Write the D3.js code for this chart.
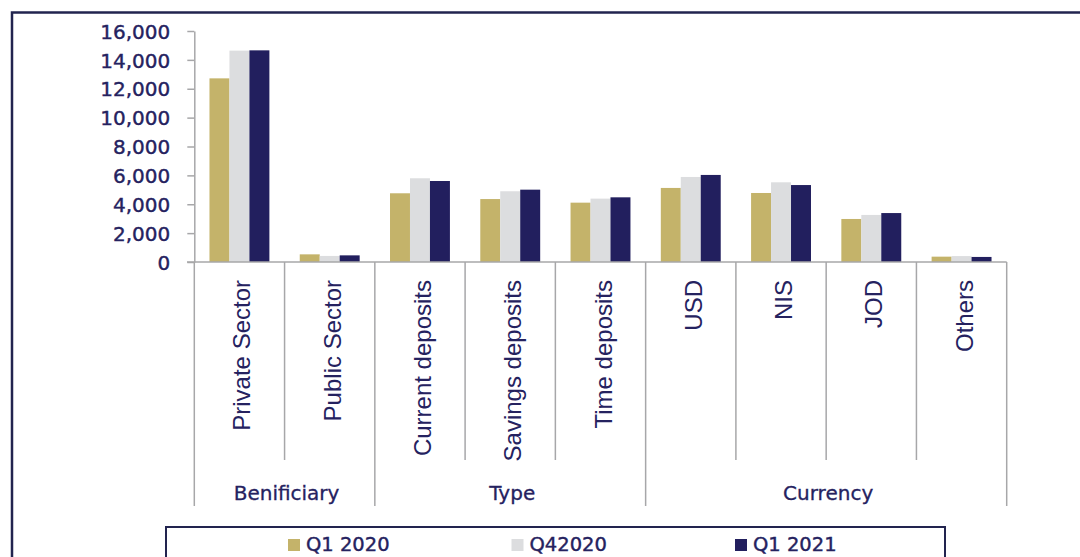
<!DOCTYPE html>
<html>
<head>
<meta charset="utf-8">
<script src="https://cdn.jsdelivr.net/npm/d3@7"></script>
<style>
  html, body { margin: 0; padding: 0; background: #fff; overflow: hidden; }
  svg { display: block; }
</style>
</head>
<body>
<div id="chart"></div>
<script>
// Data
const categories = ["Private Sector", "Public Sector", "Current deposits", "Savings deposits",
  "Time deposits", "USD", "NIS", "JOD", "Others"];
const categoryGroups = ["Benificiary", "Benificiary", "Type", "Type", "Type",
  "Currency", "Currency", "Currency", "Currency"];
const seriesNames = ["Q1 2020", "Q42020", "Q1 2021"];
const q1_2020 = [12720, 530, 4760, 4360, 4110, 5130, 4780, 2980, 370];
const q4_2020 = [14640, 420, 5800, 4900, 4390, 5890, 5520, 3260, 410];
const q1_2021 = [14660, 460, 5610, 5010, 4480, 6030, 5330, 3390, 350];
const yTicks = [0, 2000, 4000, 6000, 8000, 10000, 12000, 14000, 16000];

const seriesValues = [q1_2020, q4_2020, q1_2021];
const colors = ["#C4B36A", "#DCDDDF", "#221F5E"];
const textColor = "#25225f";
const lineColor = "#a7a7a9";

const width = 1080, height = 557;
const svg = d3.select("#chart").append("svg").attr("width", width).attr("height", height);

// outer frame (runs off the right and bottom of the picture)
svg.append("rect")
  .attr("x", 12).attr("y", 12.5).attr("width", 1200).attr("height", 700)
  .attr("fill", "none").attr("stroke", "#22244f").attr("stroke-width", 2.5);

const x = d3.scaleBand().domain(categories).range([194.3, 1006.7]).paddingInner(0).paddingOuter(0);
const xs = d3.scaleBand().domain(seriesNames).range([0, x.bandwidth()]).paddingInner(0).paddingOuter(0.76);
const y = d3.scaleLinear().domain([0, 16000]).range([262, 31]);

// bars
const rows = [];
categories.forEach((c, i) => seriesNames.forEach((s, j) => rows.push({ c, s, v: seriesValues[j][i], j })));
svg.append("g").selectAll("rect").data(rows).enter().append("rect")
  .attr("x", d => x(d.c) + xs(d.s))
  .attr("width", xs.bandwidth())
  .attr("y", d => y(d.v))
  .attr("height", d => y(0) - y(d.v))
  .attr("fill", d => colors[d.j]);

// y axis
const yAxis = svg.append("g").attr("transform", "translate(194.3,0)")
  .call(d3.axisLeft(y).tickValues(yTicks).tickFormat(d3.format(",")).tickSize(7).tickSizeOuter(0).tickPadding(17));
yAxis.select(".domain").attr("stroke", lineColor).attr("stroke-width", 1.5);
yAxis.selectAll(".tick line").attr("stroke", lineColor).attr("stroke-width", 1.5);
yAxis.selectAll("text").attr("fill", textColor).attr("font-family", "DejaVu Sans")
  .attr("font-size", 20).attr("dy", "0.36em")
  .attr("stroke", textColor).attr("stroke-width", 0.4);

// category axis line
svg.append("line").attr("x1", 187).attr("x2", x.range()[1]).attr("y1", y(0)).attr("y2", y(0))
  .attr("stroke", lineColor).attr("stroke-width", 1.5);

// separators: group borders go further down than inner category borders
const bounds = categories.map(c => x(c)).concat([x.range()[1]]);
svg.append("g").selectAll("line").data(bounds).enter().append("line")
  .attr("x1", d => d).attr("x2", d => d)
  .attr("y1", y(0))
  .attr("y2", (d, i) => (i === 0 || i === bounds.length - 1 || categoryGroups[i] !== categoryGroups[i - 1]) ? 506 : 460)
  .attr("stroke", lineColor).attr("stroke-width", 1.5);

// category labels
svg.append("g").selectAll("text").data(categories).enter().append("text")
  .attr("transform", d => `translate(${x(d) + x.bandwidth() / 2 + 11},280) rotate(-90)`)
  .attr("text-anchor", "end")
  .attr("font-family", "Liberation Sans").attr("font-size", 24)
  .attr("fill", textColor)
  .text(d => d);

// group labels
const groupNames = Array.from(new Set(categoryGroups));
svg.append("g").selectAll("text").data(groupNames).enter().append("text")
  .attr("x", g => {
    const cs = categories.filter((c, i) => categoryGroups[i] === g);
    return (x(cs[0]) + x(cs[cs.length - 1]) + x.bandwidth()) / 2 + 2;
  })
  .attr("y", 499.5)
  .attr("text-anchor", "middle")
  .attr("font-family", "DejaVu Sans").attr("font-size", 20)
  .attr("fill", textColor)
  .attr("stroke", textColor).attr("stroke-width", 0.3)
  .text(g => g);

// legend
const legend = svg.append("g");
legend.append("rect").attr("x", 166).attr("y", 527).attr("width", 779).attr("height", 60)
  .attr("fill", "#fff").attr("stroke", "#22244f").attr("stroke-width", 2);
const item = legend.selectAll("g.item").data(seriesNames).enter().append("g")
  .attr("class", "item")
  .attr("transform", (d, i) => `translate(${288 + i * 223.5},539)`);
item.append("rect").attr("width", 12).attr("height", 12).attr("fill", (d, i) => colors[i]);
item.append("text").attr("x", 18).attr("y", 12)
  .attr("font-family", "DejaVu Sans").attr("font-size", 19.5)
  .attr("fill", textColor)
  .attr("stroke", textColor).attr("stroke-width", 0.4)
  .text(d => d);
</script>
</body>
</html>
